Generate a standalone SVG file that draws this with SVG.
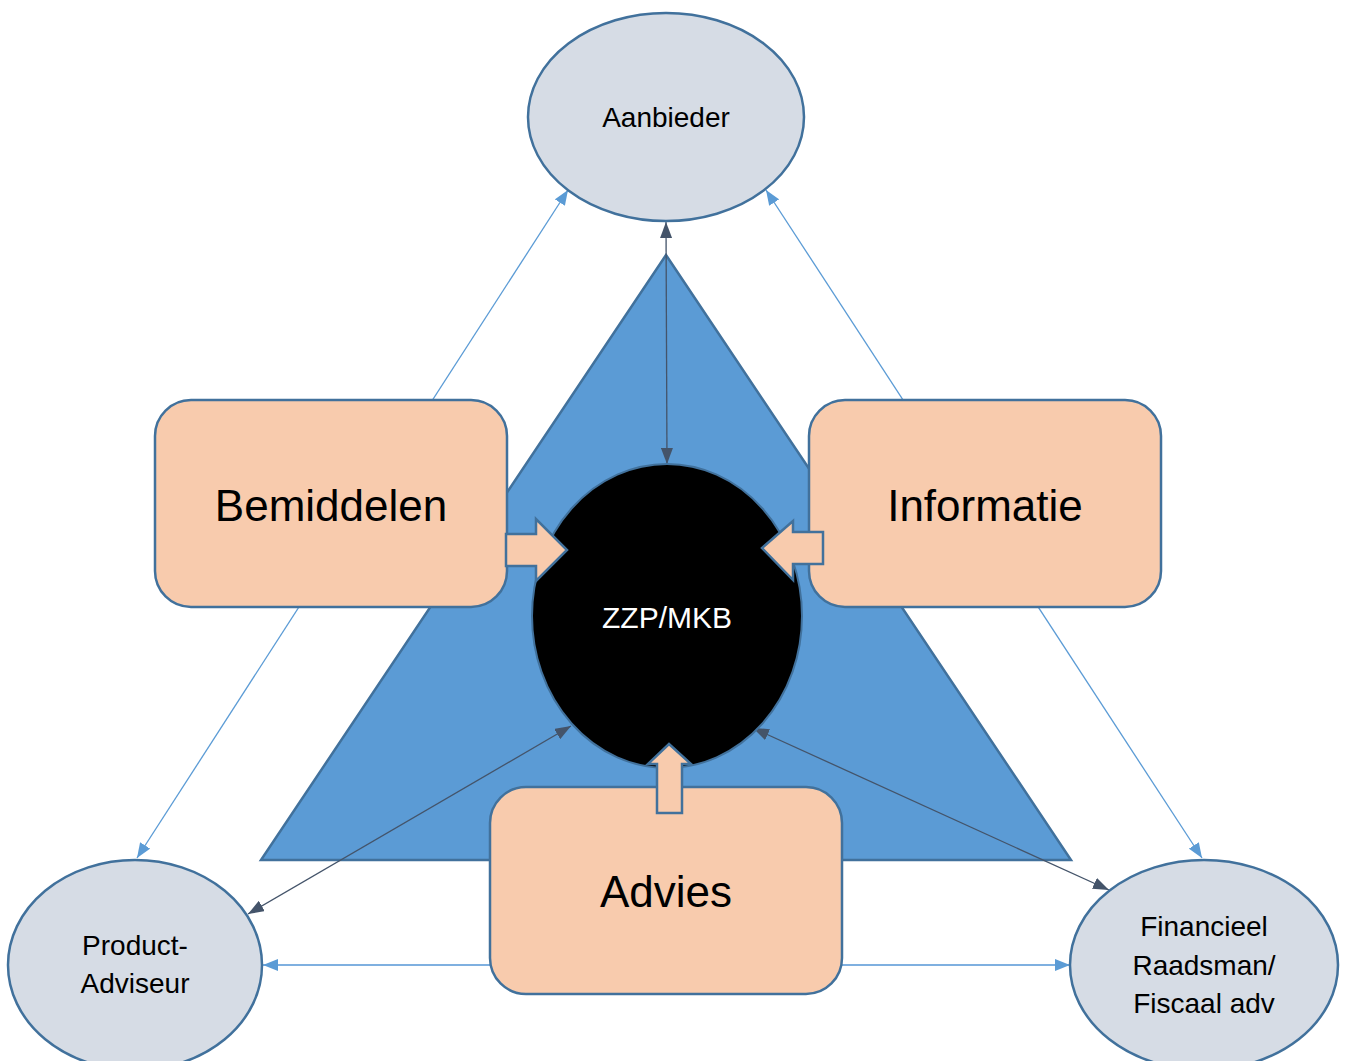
<svg xmlns="http://www.w3.org/2000/svg" width="1346" height="1061" viewBox="0 0 1346 1061">
<style>
.tri{fill:#5B9BD5;stroke:#41719C;stroke-width:2.5}
.ell{fill:#D6DCE5;stroke:#41719C;stroke-width:2.5}
.box{fill:#F8CBAD;stroke:#41719C;stroke-width:2.5}
.blk{fill:#F8CBAD;stroke:#41719C;stroke-width:2.5;stroke-linejoin:miter}
.lt{stroke:#5B9BD5;stroke-width:1.3;fill:none}
.dk{stroke:#44546A;stroke-width:1.3;fill:none}
text{font-family:"Liberation Sans",Arial,sans-serif;text-anchor:middle;fill:#000}
.s{font-size:28px}
.b{font-size:44px}
</style>
<defs>
<marker id="mL" viewBox="0 0 15 12" refX="15" refY="6" markerWidth="15" markerHeight="12" markerUnits="userSpaceOnUse" orient="auto-start-reverse"><path d="M0,0 L15,6 L0,12 Z" fill="#5B9BD5"/></marker>
<marker id="mD" viewBox="0 0 16 12" refX="16" refY="6" markerWidth="16" markerHeight="12" markerUnits="userSpaceOnUse" orient="auto-start-reverse"><path d="M0,0 L16,6 L0,12 Z" fill="#44546A"/></marker>
</defs>
<polygon class="tri" points="666,255 1071,860 261,860"/>
<g id="connectors">
<line class="lt" x1="137" y1="858" x2="568" y2="190" marker-start="url(#mL)" marker-end="url(#mL)"/>
<line class="lt" x1="766" y1="190" x2="1202" y2="858" marker-start="url(#mL)" marker-end="url(#mL)"/>
<line class="lt" x1="263" y1="965" x2="1070" y2="965" marker-start="url(#mL)" marker-end="url(#mL)" style="stroke-width:1.8;stroke:#7FB0E0"/>
<line class="dk" x1="666" y1="222" x2="667" y2="464" marker-start="url(#mD)" marker-end="url(#mD)"/>
<line class="dk" x1="571" y1="726" x2="248" y2="914" marker-start="url(#mD)" marker-end="url(#mD)"/>
<line class="dk" x1="753" y1="728" x2="1109" y2="890" marker-start="url(#mD)" marker-end="url(#mD)"/>
</g>
<g id="zzp">
<ellipse cx="667" cy="616" rx="135" ry="152" fill="#000" stroke="#41719C" stroke-width="2"/>
<text x="667" y="628" style="font-size:30px;fill:#fff">ZZP/MKB</text>
</g>
<g id="aanbieder">
<ellipse class="ell" cx="666" cy="117" rx="138" ry="104"/>
<text class="s" x="666" y="127">Aanbieder</text>
</g>
<g id="product-adviseur">
<ellipse class="ell" cx="135" cy="965" rx="127" ry="105"/>
<text class="s" x="135" y="955">Product-</text>
<text class="s" x="135" y="993">Adviseur</text>
</g>
<g id="financieel">
<ellipse class="ell" cx="1204" cy="965" rx="134" ry="105"/>
<text class="s" x="1204" y="936">Financieel</text>
<text class="s" x="1204" y="975">Raadsman/</text>
<text class="s" x="1204" y="1013">Fiscaal adv</text>
</g>
<g id="bemiddelen">
<rect class="box" x="155" y="400" width="352" height="207" rx="36"/>
<text class="b" x="331" y="521">Bemiddelen</text>
</g>
<g id="informatie">
<rect class="box" x="809" y="400" width="352" height="207" rx="36"/>
<text class="b" x="985" y="521">Informatie</text>
</g>
<g id="advies">
<rect class="box" x="490" y="787" width="352" height="207" rx="36"/>
<text class="b" x="666" y="907">Advies</text>
</g>
<g id="block-arrows">
<polygon class="blk" points="506,534 536,534 536,519 567,550 536,581 536,566 506,566"/>
<polygon class="blk" points="823,532 793,532 793,521 762,548 793,580 793,564 823,564"/>
<polygon class="blk" points="657,813 657,764 648,764 669,744 691,764 682,764 682,813"/>
</g>
</svg>
